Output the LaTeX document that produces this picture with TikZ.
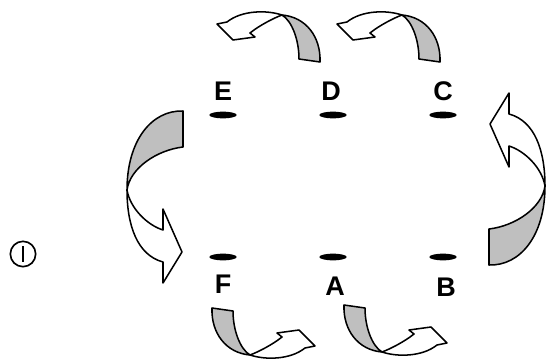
\documentclass[tikz,border=0pt]{standalone}
\usepackage{fontspec}
\setmainfont{Liberation Sans}
\usepackage{tikz}
\usetikzlibrary{shapes.geometric}

\begin{document}
\begin{tikzpicture}[x=0.03cm,y=-0.03cm,
  twist/.style={draw=black,line width=1.3pt,line join=round},
  backside/.style={twist,fill=black!25},
  frontside/.style={twist,fill=white},
  station/.style={ellipse,fill=black,minimum width=0.82cm,minimum height=0.2cm,
                  inner sep=0pt},
  lbl/.style={font=\fontsize{23}{26}\selectfont\bfseries,anchor=base,inner sep=0pt},
  startmark/.style={draw,circle,line width=1.4pt,minimum size=0.76cm,inner sep=0pt},
  smallturn/.pic={
    \filldraw[backside] (17,44) -- (38,47) .. controls (39,22) and (24,2) .. (0,0)
        .. controls (10,6) and (17,25) .. cycle;
    \filldraw[frontside] (0,0) .. controls (-15,-5) and (-40,-5) .. (-55,7)
        -- (-65,9) -- (-49,25) -- (-27,22) -- (-32,18)
        .. controls (-22,10) and (-8,3) .. cycle;
  },
  bigturn/.pic={
    \filldraw[backside] (56,-79) -- (56,-43) .. controls (30,-40) and (3,-22) .. (0,0)
        .. controls (0,-50) and (25,-80) .. cycle;
    \filldraw[frontside] (0,0) .. controls (3,18) and (20,35) .. (36,40)
        -- (36,19) -- (55,62) -- (36,93) -- (36,72)
        .. controls (10,65) and (0,35) .. cycle;
  }
]
\useasboundingbox (0,0) rectangle (553,360);

%% Stations, top row
\node[station] (E) at (223,115) {};
\node[station] (D) at (333,115) {};
\node[station] (C) at (443,115) {};
\node[lbl] (lE) at (223,100) {E};
\node[lbl] (lD) at (331,100) {D};
\node[lbl] (lC) at (443,100) {C};

%% Stations, bottom row
\node[station] (F) at (223,257) {};
\node[station] (A) at (333,257) {};
\node[station] (B) at (443,257) {};
\node[lbl] (lF) at (223,293) {F};
\node[lbl] (lA) at (335,295) {A};
\node[lbl] (lB) at (446,296) {B};

%% Start mark
\node[startmark] (start) at (23,254) {\rule{1.6pt}{0.47cm}};

%% Twisted arrows
\pic (ed) at (282,15) {smallturn};
\pic (dc) at (402,15) {smallturn};
\pic[rotate=180] (fa) at (250,355) {smallturn};
\pic[rotate=180] (ab) at (382,352) {smallturn};
\pic (ef) at (127,190) {bigturn};
\pic[rotate=180] (bc) at (545,186) {bigturn};
\end{tikzpicture}
\end{document}
